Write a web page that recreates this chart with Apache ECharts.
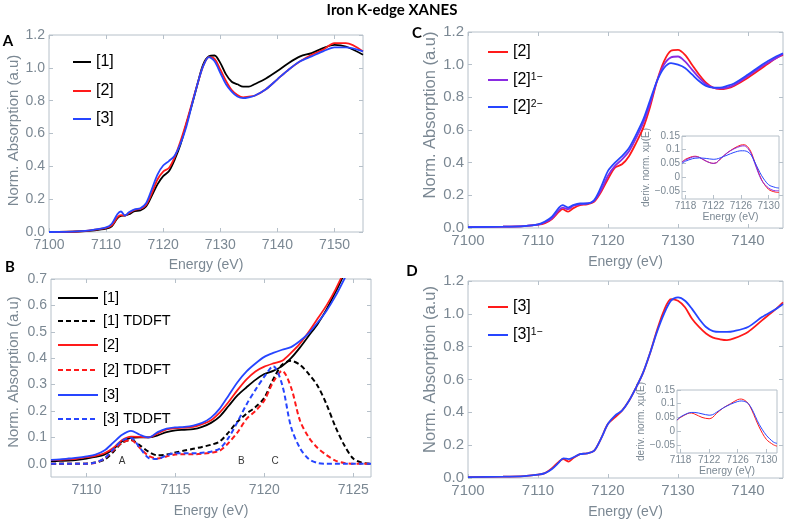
<!DOCTYPE html>
<html><head><meta charset="utf-8">
<script src="https://cdn.jsdelivr.net/npm/echarts@6/dist/echarts.min.js"></script>
<style>html,body{margin:0;padding:0;background:#fff}#c{width:785px;height:521px}</style>
</head><body><div id="c"></div>
<script>
// ---------------- DATA ----------------
// Panel A
const energyA = [7100,7105,7108,7110,7111,7112,7112.6,7113.3,7114,7115,7116,7117,7118,7119,7120,7121,7122,7123,7124,7125,7126,7127,7128,7129,7130,7131,7132,7133,7134,7135,7136,7138,7140,7142,7144,7146,7148,7150,7152,7155];
const absA1 = [0,0.003,0.01,0.02,0.035,0.085,0.098,0.1,0.108,0.127,0.131,0.155,0.22,0.29,0.34,0.37,0.44,0.53,0.65,0.77,0.9,1.02,1.07,1.075,1.03,0.96,0.915,0.9,0.885,0.885,0.9,0.935,0.98,1.03,1.07,1.09,1.12,1.14,1.13,1.08];
const absA2 = [0,0.003,0.014,0.025,0.04,0.09,0.103,0.1,0.115,0.135,0.14,0.165,0.235,0.32,0.368,0.39,0.455,0.55,0.66,0.78,0.9,1.01,1.065,1.055,0.99,0.92,0.865,0.835,0.82,0.825,0.83,0.87,0.93,0.99,1.04,1.08,1.11,1.15,1.15,1.1];
const absA3 = [0,0.004,0.015,0.028,0.05,0.11,0.125,0.1,0.12,0.138,0.145,0.175,0.26,0.35,0.405,0.432,0.465,0.535,0.635,0.77,0.9,1.01,1.065,1.04,0.97,0.9,0.855,0.825,0.815,0.82,0.83,0.87,0.93,0.99,1.04,1.07,1.1,1.125,1.125,1.1];
const namesA = ['[1]','[2]','[3]'];

// Panel B
const energyB = [7108,7108.5,7109,7109.5,7110,7110.5,7111,7111.5,7112,7112.5,7113,7113.5,7114,7114.5,7115,7115.5,7116,7116.5,7117,7117.5,7118,7118.5,7119,7119.5,7120,7120.5,7121,7121.5,7122,7122.5,7123,7123.5,7124,7124.5,7125,7125.5,7126];
const bExp1 = [0.010,0.011,0.012,0.015,0.020,0.026,0.035,0.055,0.085,0.098,0.100,0.100,0.108,0.120,0.127,0.129,0.131,0.140,0.155,0.180,0.220,0.260,0.290,0.318,0.340,0.352,0.370,0.400,0.440,0.485,0.530,0.585,0.650,0.720,0.790,0.860,0.930];
const bTd1  = [0,0,0,0,0.001,0.005,0.015,0.045,0.08,0.09,0.07,0.045,0.032,0.035,0.043,0.05,0.057,0.064,0.072,0.085,0.12,0.16,0.19,0.215,0.25,0.32,0.375,0.39,0.375,0.34,0.295,0.225,0.14,0.07,0.02,0.004,0];
const bExp2 = [0.014,0.015,0.017,0.02,0.025,0.03,0.04,0.06,0.09,0.103,0.102,0.1,0.115,0.13,0.135,0.137,0.14,0.15,0.165,0.195,0.235,0.28,0.32,0.35,0.368,0.38,0.39,0.42,0.455,0.5,0.55,0.6,0.66,0.73,0.8,0.87,0.94];
const bTd2  = [0,0,0,0,0,0.004,0.02,0.05,0.08,0.09,0.06,0.03,0.02,0.028,0.035,0.036,0.036,0.038,0.042,0.05,0.08,0.12,0.17,0.2,0.24,0.31,0.352,0.29,0.165,0.1,0.06,0.033,0.012,0.003,0,0,0];
const bExp3 = [0.015,0.017,0.02,0.023,0.028,0.035,0.05,0.08,0.11,0.125,0.11,0.1,0.12,0.133,0.138,0.14,0.145,0.155,0.175,0.21,0.26,0.31,0.35,0.38,0.405,0.42,0.432,0.442,0.465,0.495,0.535,0.58,0.635,0.7,0.77,0.84,0.91];
const bTd3  = [0,0,0,0,0,0.005,0.02,0.055,0.088,0.098,0.06,0.022,0.018,0.032,0.04,0.04,0.04,0.042,0.046,0.058,0.1,0.16,0.225,0.28,0.33,0.37,0.3,0.14,0.06,0.018,0.003,0,0,0,0,0,0];
const namesB = ['[1]','[1] TDDFT','[2]','[2] TDDFT','[3]','[3] TDDFT'];
const peakNames = ['A','B','C'];
const peakEnergy = [7112,7118.7,7120.6];
const peakLevel = [0.008,0.008,0.008];

// Panel C
const energyC = [7100,7105,7108,7110,7111,7112,7113,7113.5,7114.3,7115,7116,7117,7118,7119,7120,7121,7122,7123,7124,7125,7126,7127,7128,7129,7130,7131,7132,7133,7134,7135,7136,7137,7138,7140,7142,7144,7145];
const absC2   = [0.005,0.008,0.012,0.02,0.03,0.055,0.1,0.115,0.1,0.12,0.14,0.145,0.16,0.22,0.30,0.37,0.39,0.44,0.52,0.61,0.74,0.9,1.02,1.085,1.09,1.06,1.0,0.94,0.89,0.86,0.85,0.855,0.87,0.92,0.98,1.04,1.06];
const absC2m1 = [0.005,0.008,0.012,0.02,0.035,0.06,0.11,0.125,0.115,0.135,0.145,0.15,0.165,0.23,0.32,0.38,0.42,0.47,0.55,0.64,0.76,0.9,1.0,1.045,1.05,1.02,0.97,0.92,0.88,0.86,0.855,0.86,0.875,0.93,0.99,1.04,1.065];
const absC2m2 = [0.005,0.008,0.012,0.022,0.04,0.07,0.125,0.14,0.125,0.14,0.15,0.15,0.17,0.25,0.35,0.40,0.44,0.49,0.57,0.66,0.78,0.9,0.98,1.01,1.0,0.98,0.94,0.9,0.87,0.86,0.86,0.87,0.885,0.94,1.0,1.05,1.07];

// Panel D
const energyD = [7100,7105,7108,7110,7111,7112,7113,7113.6,7114.4,7115,7116,7117,7118,7119,7120,7121,7122,7123,7124,7125,7126,7127,7128,7129,7130,7131,7132,7133,7134,7135,7136,7137,7138,7140,7142,7144,7145];
const absD3   = [0.005,0.008,0.012,0.02,0.03,0.06,0.1,0.115,0.1,0.12,0.145,0.15,0.165,0.24,0.33,0.37,0.41,0.47,0.55,0.64,0.76,0.9,1.02,1.09,1.08,1.04,0.97,0.92,0.88,0.855,0.845,0.84,0.85,0.89,0.96,1.03,1.07];
const absD3m1 = [0.005,0.008,0.012,0.02,0.03,0.055,0.095,0.12,0.115,0.125,0.145,0.15,0.165,0.24,0.33,0.38,0.41,0.47,0.55,0.64,0.76,0.89,1.0,1.08,1.1,1.08,1.03,0.97,0.92,0.895,0.89,0.89,0.895,0.92,0.98,1.03,1.06];

// Insets (derivative)
const energyIns = [7117.5,7118,7119,7119.5,7120,7121,7122,7122.5,7123,7124,7125,7126,7126.5,7127,7127.5,7128,7129,7130,7131,7131.5];
const derC2   = [0.055,0.065,0.075,0.076,0.072,0.058,0.05,0.053,0.065,0.088,0.105,0.117,0.118,0.11,0.09,0.055,-0.01,-0.045,-0.055,-0.056];
const derC2m1 = [0.055,0.062,0.073,0.074,0.072,0.058,0.05,0.053,0.066,0.088,0.103,0.113,0.114,0.105,0.085,0.05,-0.012,-0.04,-0.05,-0.05];
const derC2m2 = [0.05,0.058,0.067,0.069,0.07,0.068,0.065,0.066,0.07,0.08,0.09,0.096,0.096,0.092,0.08,0.055,0.005,-0.028,-0.038,-0.04];
const derD3   = [0.04,0.05,0.064,0.066,0.062,0.05,0.045,0.05,0.064,0.085,0.1,0.115,0.117,0.112,0.1,0.075,0.015,-0.03,-0.05,-0.055];
const derD3m1 = [0.04,0.052,0.065,0.068,0.068,0.063,0.058,0.06,0.068,0.085,0.098,0.108,0.11,0.108,0.1,0.08,0.025,-0.015,-0.04,-0.045];

// Tick labels
const xTicksA = [7100,7110,7120,7130,7140,7150];
const xTicksCD = [7100,7110,7120,7130,7140];
const xTicksB = [7110,7115,7120,7125];
const yTicksMain = [0,0.2,0.4,0.6,0.8,1.0,1.2];
const yTicksB = [0,0.1,0.2,0.3,0.4,0.5,0.6,0.7];
const xTicksIns = [7118,7122,7126,7130];
const yTicksIns = [-0.05,0,0.05,0.1,0.15];

// ---------------- STYLE ----------------
const FONT = '"Liberation Sans", Arial, sans-serif';
const TICK_C = '#7b8893';
const FRAME_C = '#b6c0c9';
const C_BLACK = '#000000', C_RED = '#ff1a1a', C_BLUE = '#2645ff', C_PURPLE = '#8a2be2';

const chart = echarts.init(document.getElementById('c'), null, {renderer: 'canvas'});

function grid(l, t, w, h, bg) {
  return {left: l, top: t, width: w, height: h, show: true, borderColor: FRAME_C, borderWidth: 1, backgroundColor: bg || 'transparent', containLabel: false};
}
const fx = v => String(Math.round(v));
function xAxis(gi, min, max, ticks, fs, nameFs, nameGap, margin) {
  return {type: 'value', gridIndex: gi, min: min, max: max, position: 'bottom',
    name: 'Energy (eV)', nameLocation: 'middle', nameGap: nameGap,
    nameTextStyle: {color: TICK_C, fontSize: nameFs, fontFamily: FONT},
    axisLine: {show: false, onZero: false}, splitLine: {show: false},
    axisTick: {show: true, inside: true, length: 4, customValues: ticks, lineStyle: {color: FRAME_C}},
    axisLabel: {color: TICK_C, fontSize: fs, fontFamily: FONT, margin: margin, customValues: ticks, formatter: fx}};
}
function xTop(gi, min, max, ticks) {
  return {type: 'value', gridIndex: gi, min: min, max: max, position: 'top',
    axisLine: {show: false, onZero: false}, splitLine: {show: false},
    axisTick: {show: true, inside: true, length: 4, customValues: ticks, lineStyle: {color: FRAME_C}},
    axisLabel: {show: false}};
}
// shiftUp moves the rotated axis title up along the frame
function yAxis(gi, min, max, ticks, fs, name, nameFs, nameGap, fmt, margin, shiftUp) {
  return {type: 'value', gridIndex: gi, min: min, max: max, position: 'left',
    name: name, nameLocation: 'middle', nameGap: nameGap,
    nameTextStyle: {color: TICK_C, fontSize: nameFs, fontFamily: FONT, padding: [0, 0, 0, 2 * (shiftUp || 0)]},
    axisLine: {show: false, onZero: false}, splitLine: {show: false},
    axisTick: {show: true, inside: true, length: 4, customValues: ticks, lineStyle: {color: FRAME_C}},
    axisLabel: {color: TICK_C, fontSize: fs, fontFamily: FONT, margin: margin, customValues: ticks, formatter: fmt}};
}
function yRight(gi, min, max, ticks) {
  return {type: 'value', gridIndex: gi, min: min, max: max, position: 'right',
    axisLine: {show: false, onZero: false}, splitLine: {show: false},
    axisTick: {show: true, inside: true, length: 4, customValues: ticks, lineStyle: {color: FRAME_C}},
    axisLabel: {show: false}};
}
function line(idx, E, V, color, width, dashed) {
  return {type: 'line', xAxisIndex: idx, yAxisIndex: idx, data: E.map((e, i) => [e, V[i]]),
    symbol: 'none', showSymbol: false, smooth: 0.3, silent: true, clip: true,
    lineStyle: {color: color, width: width, type: dashed ? [5, 3] : 'solid'}};
}
const f1 = v => v.toFixed(1);
const fIns = v => { const r = Math.round(v * 100) / 100; return r === 0 ? '0' : (r < 0 ? '\u2212' + String(-r) : String(r)); };
const YNAME = 'Norm. Absorption (a.u)';
const INS_Y = 'deriv. norm. x\u03bc(E)';

const grids = [
  grid(49, 35, 314, 197),
  grid(51, 279, 320, 198),
  grid(468, 32, 315, 196),
  grid(468, 281, 315, 197),
  grid(682, 136, 97, 63, '#fff'),
  grid(677, 390, 100, 63, '#fff')
];
const xAxes = [
  xAxis(0, 7100, 7155, xTicksA, 14, 14, 26, 6),
  xAxis(1, 7108, 7126, xTicksB, 14, 14, 27, 6),
  xAxis(2, 7100, 7145, xTicksCD, 15, 14, 27, 5),
  xAxis(3, 7100, 7145, xTicksCD, 15, 14, 27, 5),
  xAxis(4, 7117.5, 7131.5, xTicksIns, 10, 10.5, 13, 2),
  xAxis(5, 7117.5, 7131.5, xTicksIns, 10, 10.5, 13, 2),
  xTop(0, 7100, 7155, xTicksA),
  xTop(1, 7108, 7126, xTicksB),
  xTop(2, 7100, 7145, xTicksCD),
  xTop(3, 7100, 7145, xTicksCD)
];
const yAxes = [
  yAxis(0, 0, 1.2, yTicksMain, 14, YNAME, 15, 28, f1, 4, 3),
  yAxis(1, -0.05, 0.7, yTicksB, 14, YNAME, 15, 30, f1, 4, 6),
  yAxis(2, 0, 1.2, yTicksMain, 15, YNAME, 16.5, 26, f1, 4, 15),
  yAxis(3, 0, 1.2, yTicksMain, 15, YNAME, 16.5, 26, f1, 4, 10),
  yAxis(4, -0.08, 0.15, yTicksIns, 10, INS_Y, 10, 29, fIns, 2, 0),
  yAxis(5, -0.08, 0.15, yTicksIns, 10, INS_Y, 10, 25, fIns, 2, 0),
  yRight(0, 0, 1.2, yTicksMain),
  yRight(1, -0.05, 0.7, yTicksB),
  yRight(2, 0, 1.2, yTicksMain),
  yRight(3, 0, 1.2, yTicksMain)
];

const series = [
  line(0, energyA, absA1, C_BLACK, 1.8),
  line(0, energyA, absA2, C_RED, 1.8),
  line(0, energyA, absA3, C_BLUE, 1.8),
  line(1, energyB, bExp1, C_BLACK, 1.8),
  line(1, energyB, bTd1, C_BLACK, 2, true),
  line(1, energyB, bExp2, C_RED, 1.8),
  line(1, energyB, bTd2, C_RED, 2, true),
  line(1, energyB, bExp3, C_BLUE, 1.8),
  line(1, energyB, bTd3, C_BLUE, 2, true),
  line(2, energyC, absC2, C_RED, 1.8),
  line(2, energyC, absC2m1, C_PURPLE, 1.8),
  line(2, energyC, absC2m2, C_BLUE, 1.8),
  line(3, energyD, absD3, C_RED, 1.8),
  line(3, energyD, absD3m1, C_BLUE, 1.8),
  line(4, energyIns, derC2, C_RED, 1),
  line(4, energyIns, derC2m1, C_PURPLE, 1),
  line(4, energyIns, derC2m2, C_BLUE, 1),
  line(5, energyIns, derD3, C_RED, 1),
  line(5, energyIns, derD3m1, C_BLUE, 1),
  {type: 'scatter', xAxisIndex: 1, yAxisIndex: 1, symbolSize: 0, silent: true,
   data: peakNames.map((n, i) => ({name: n, value: [peakEnergy[i], peakLevel[i]]})),
   label: {show: true, position: 'inside', formatter: p => p.name, color: '#000', fontSize: 10, fontFamily: FONT}}
];

// legends + annotations
const g = [];
function legItem(x1, x2, y, color, dashed, label, sup, fs) {
  g.push({type: 'line', silent: true, shape: {x1: x1, y1: y, x2: x2, y2: y},
    style: {stroke: color, lineWidth: 2, lineDash: dashed ? [5, 3] : null}});
  const rich = {b: {fontSize: fs, fontFamily: FONT, fill: '#000'}, s: {fontSize: fs * 0.65, fontFamily: FONT, fill: '#000', verticalAlign: 'top'}};
  g.push({type: 'text', x: x2 + 5, y: y, silent: true,
    style: {text: '{b|' + label + '}' + (sup ? '{s|' + sup + '}' : ''), fontFamily: FONT, fill: '#000', verticalAlign: 'middle', rich: rich}});
}
g.push({type: 'text', x: 392, y: 10, silent: true, style: {text: 'Iron K-edge XANES', fontSize: 15, fontWeight: 'bold', fontFamily: 'Lato, "Open Sans", sans-serif', fill: '#000', align: 'center', verticalAlign: 'middle'}});
[['A', 8, 41], ['B', 10, 267], ['C', 417, 33], ['D', 412, 271]].forEach(p => {
  g.push({type: 'text', x: p[1], y: p[2], silent: true, style: {text: p[0], fontSize: 15, fontWeight: 'bold', fontFamily: 'Lato, "Open Sans", sans-serif', fill: '#000', align: 'center', verticalAlign: 'middle'}});
});
// Legend A
legItem(73, 91, 62, C_BLACK, false, namesA[0], null, 16);
legItem(73, 91, 91, C_RED, false, namesA[1], null, 16);
legItem(73, 91, 119, C_BLUE, false, namesA[2], null, 16);
// Legend B
const ysB = [298, 321, 345, 370, 395, 419];
const colB = [C_BLACK, C_BLACK, C_RED, C_RED, C_BLUE, C_BLUE];
namesB.forEach((n, i) => legItem(58, 98, ysB[i], colB[i], i % 2 === 1, n, null, 14.5));
// Legend C
legItem(488, 508, 52, C_RED, false, '[2]', null, 16);
legItem(488, 508, 80, C_PURPLE, false, '[2]', '1\u2212', 16);
legItem(488, 508, 107, C_BLUE, false, '[2]', '2\u2212', 16);
// Legend D
legItem(488, 508, 307, C_RED, false, '[3]', null, 16);
legItem(488, 508, 335, C_BLUE, false, '[3]', '1\u2212', 16);

chart.setOption({
  animation: false,
  backgroundColor: '#fff',
  grid: grids, xAxis: xAxes, yAxis: yAxes, series: series,
  graphic: g
});
</script></body></html>
